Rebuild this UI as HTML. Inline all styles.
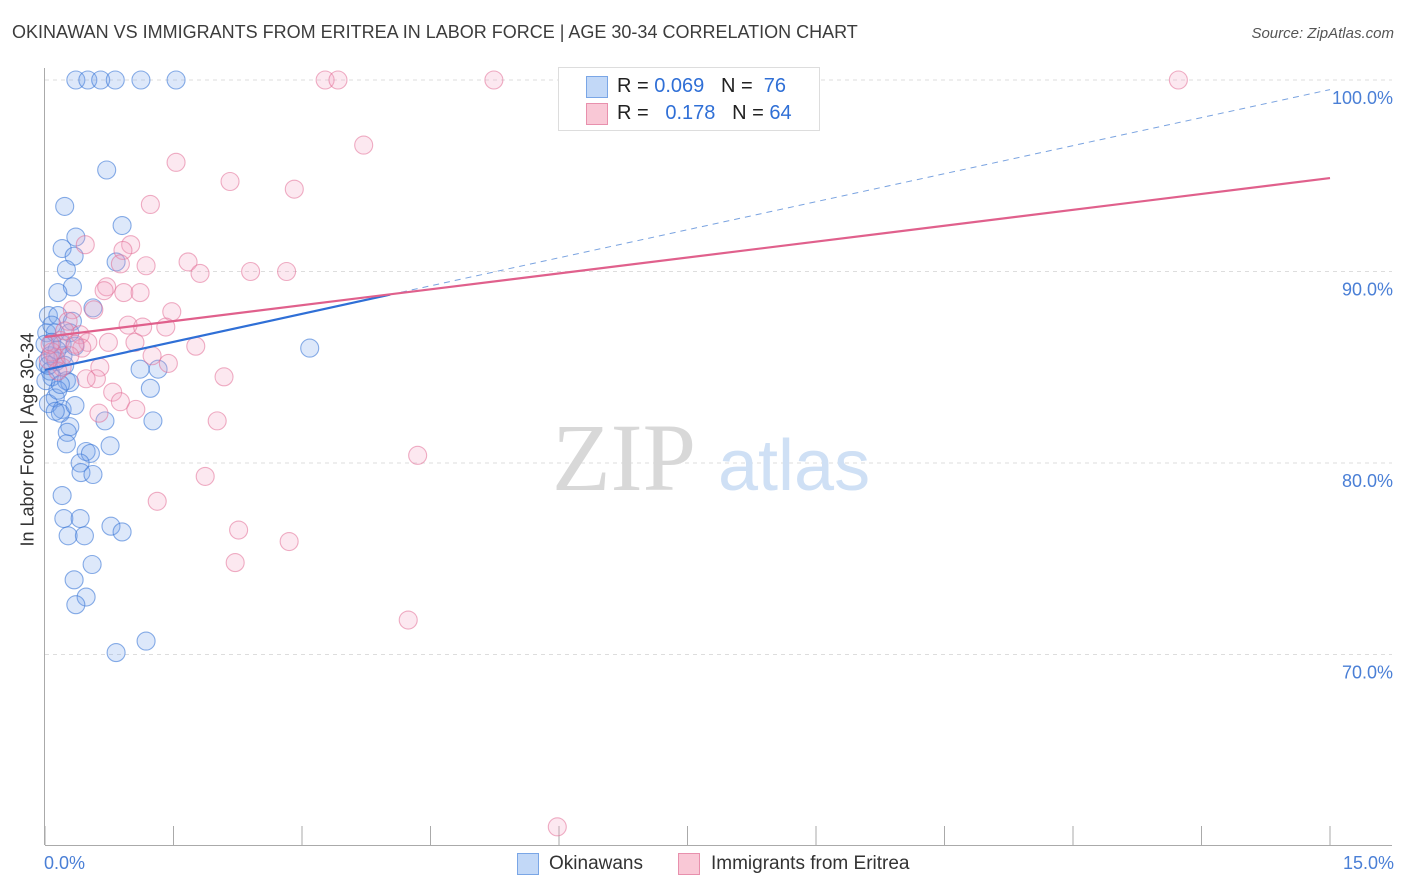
<!DOCTYPE html>
<html><head><meta charset="utf-8">
<style>
body{margin:0;background:#fff;font-family:"Liberation Sans",sans-serif;}
#wrap{position:relative;width:1406px;height:892px;overflow:hidden;}
.t{position:absolute;white-space:nowrap;}
</style></head>
<body>
<div id="wrap">
<div class="t" style="left:12px;top:22px;font-size:18px;color:#3c3c3c;">OKINAWAN VS IMMIGRANTS FROM ERITREA IN LABOR FORCE | AGE 30-34 CORRELATION CHART</div>
<div class="t" style="right:12px;top:25px;font-size:15px;color:#555;font-style:italic;">Source: ZipAtlas.com</div>
<svg id="svg" width="1406" height="892" style="position:absolute;left:0;top:0"></svg>
</div>
<script>
const blueX=[0.36,0.50,0.65,0.82,1.12,1.53,0.72,0.23,0.90,0.20,0.36,0.34,0.83,0.25,0.32,0.15,0.56,0.04,0.15,0.32,0.02,0.12,0.29,0.08,0.20,0.35,3.09,0.06,0.13,0.00,1.11,1.32,0.08,0.25,0.29,1.23,0.12,0.04,0.20,0.18,0.70,1.26,0.29,0.26,0.25,0.76,0.48,0.53,0.41,0.42,0.56,0.20,0.22,0.41,0.77,0.90,0.27,0.46,0.55,0.34,0.48,0.36,1.18,0.83,0.00,0.06,0.15,0.01,0.08,0.21,0.04,0.12,0.23,0.14,0.18,0.35];
const blueY=[100,100,100,100,100,100,95.3,93.4,92.4,91.2,91.8,90.8,90.5,90.1,89.2,88.9,88.1,87.7,87.7,87.4,86.8,86.8,86.8,86.3,86.2,86.1,86.0,85.6,85.3,85.2,84.9,84.9,84.5,84.3,84.2,83.9,83.4,83.1,82.8,82.6,82.2,82.2,81.9,81.6,81.0,80.9,80.6,80.5,80.0,79.5,79.4,78.3,77.1,77.1,76.7,76.4,76.2,76.2,74.7,73.9,73.0,72.6,70.7,70.1,86.2,84.8,83.8,84.3,87.2,85.6,85.1,82.7,85.1,85.9,84.1,83.0];
const pinkX=[3.27,3.42,5.24,13.23,3.72,1.53,2.16,2.91,1.23,0.47,1.00,0.91,0.88,1.18,1.67,1.81,2.40,2.82,0.72,0.69,0.92,1.11,0.57,0.32,1.48,0.27,0.97,1.14,1.41,0.41,0.50,0.74,1.05,1.76,0.43,1.25,0.12,1.44,0.20,0.64,0.60,0.48,2.09,0.79,0.88,1.06,0.63,2.01,4.35,1.87,1.31,2.26,2.85,2.22,4.24,5.98,0.18,0.08,0.15,0.23,0.04,0.35,0.06,0.29];
const pinkY=[100,100,100,100,96.6,95.7,94.7,94.3,93.5,91.4,91.4,91.1,90.4,90.3,90.5,89.9,90.0,90.0,89.2,89.0,88.9,88.9,88.0,88.0,87.9,87.4,87.2,87.1,87.1,86.7,86.3,86.3,86.3,86.1,86.0,85.6,85.5,85.2,85.0,85.0,84.4,84.4,84.5,83.7,83.2,82.8,82.6,82.2,80.4,79.3,78.0,76.5,75.9,74.8,71.8,61.0,86.4,85.8,84.8,86.9,85.4,86.2,86.2,85.6];
const blueTrend=[84.86,99.5];
const pinkTrend=[86.58,94.88];
const yTicks=[100,90,80,70];
const yTickLabels=["100.0%","90.0%","80.0%","70.0%"];

const NS="http://www.w3.org/2000/svg";
const svg=document.getElementById('svg');
const X0=45,X1=1330,XMAX=15;
const sx=v=>X0+(X1-X0)*v/XMAX;
const sy=v=>80+(100-v)*19.15;
function mk(tag,attrs,parent){const e=document.createElementNS(NS,tag);for(const k in attrs)e.setAttribute(k,attrs[k]);(parent||svg).appendChild(e);return e;}

yTicks.forEach((v,i)=>{
  const g=mk('line',{x1:45,x2:1392,y1:sy(v),y2:sy(v),stroke:'#ddd','stroke-dasharray':'4,4'});
  
  
  const t=mk('text',{x:1393,y:sy(v)+24,'text-anchor':'end','font-size':18,fill:'#4a7fd6','font-family':'Liberation Sans, sans-serif'});
  t.textContent=yTickLabels[i];
  
  
});
let a=mk('line',{x1:44.5,x2:44.5,y1:68,y2:845,stroke:'#aaa'});


a=mk('line',{x1:45,x2:1392,y1:845.5,y2:845.5,stroke:'#aaa'});


for(let i=0;i<=10;i++){
  const x=45+i*128.5;
  const tk=mk('line',{x1:x,x2:x,y1:826,y2:845,stroke:'#aaa'});
  
  
}
let w=mk('text',{x:552,y:490,'font-size':96,fill:'#d8d8d8','font-family':'Liberation Serif, serif'});
w.textContent='ZIP';


w=mk('text',{x:718,y:490,'font-size':72,fill:'#cfe0f5','font-family':'Liberation Sans, sans-serif'});
w.textContent='atlas';



function pts(xs,ys,fill,stroke,name){
  xs.forEach((x,i)=>{
    const c=mk('circle',{cx:sx(x),cy:sy(ys[i]),r:9,fill:fill,stroke:stroke,'stroke-width':1.1});
    
    
  });
}
pts(blueX,blueY,'rgba(120,165,235,0.25)','rgba(60,120,215,0.6)','okinawan-point');
pts(pinkX,pinkY,'rgba(245,165,195,0.25)','rgba(225,110,150,0.55)','eritrea-point');

const bEnd=4.03;
const bAt=x=>blueTrend[0]+(blueTrend[1]-blueTrend[0])*x/XMAX;
let l=mk('line',{x1:sx(bEnd),y1:sy(bAt(bEnd)),x2:sx(15),y2:sy(bAt(15)),stroke:'#7aa3e0','stroke-width':1,'stroke-dasharray':'6,5'});


l=mk('line',{x1:sx(0),y1:sy(bAt(0)),x2:sx(bEnd),y2:sy(bAt(bEnd)),stroke:'#2f6fd6','stroke-width':2.2});


l=mk('line',{x1:sx(0),y1:sy(pinkTrend[0]),x2:sx(15),y2:sy(pinkTrend[1]),stroke:'#e0608c','stroke-width':2.2});


</script>

<div class="t" style="left:-62px;top:446px;font-size:18px;color:#333;transform:rotate(-90deg);transform-origin:center;width:180px;text-align:center;">In Labor Force | Age 30-34</div>
<div class="t" style="left:44px;top:853px;font-size:18px;color:#4a7fd6;">0.0%</div>
<div class="t" style="right:12px;top:853px;font-size:18px;color:#4a7fd6;">15.0%</div>

<div style="position:absolute;left:558px;top:67px;width:260px;height:62px;border:1px solid #ddd;background:#fff;font-size:20px;color:#222;">
  <div style="position:absolute;left:27px;top:8px;width:20px;height:20px;background:#c2d8f7;border:1px solid #7aa6e6;"></div>
  <div class="t" style="left:58px;top:7px;">R = <span style="color:#2f6fd6">0.069</span>&nbsp;&nbsp;&nbsp;N = &nbsp;<span style="color:#2f6fd6">76</span></div>
  <div style="position:absolute;left:27px;top:35px;width:20px;height:20px;background:#f9c8d6;border:1px solid #e890ad;"></div>
  <div class="t" style="left:58px;top:34px;">R = &nbsp;&nbsp;<span style="color:#2f6fd6">0.178</span>&nbsp;&nbsp;&nbsp;N = <span style="color:#2f6fd6">64</span></div>
</div>

<div style="position:absolute;left:517px;top:853px;font-size:19px;color:#333;">
  <div style="position:absolute;left:0;top:0;width:20px;height:20px;background:#c2d8f7;border:1px solid #7aa6e6;"></div>
  <div class="t" style="left:32px;top:0;">Okinawans</div>
  <div style="position:absolute;left:161px;top:0;width:20px;height:20px;background:#f9c8d6;border:1px solid #e890ad;"></div>
  <div class="t" style="left:194px;top:0;">Immigrants from Eritrea</div>
</div>
</body></html>
